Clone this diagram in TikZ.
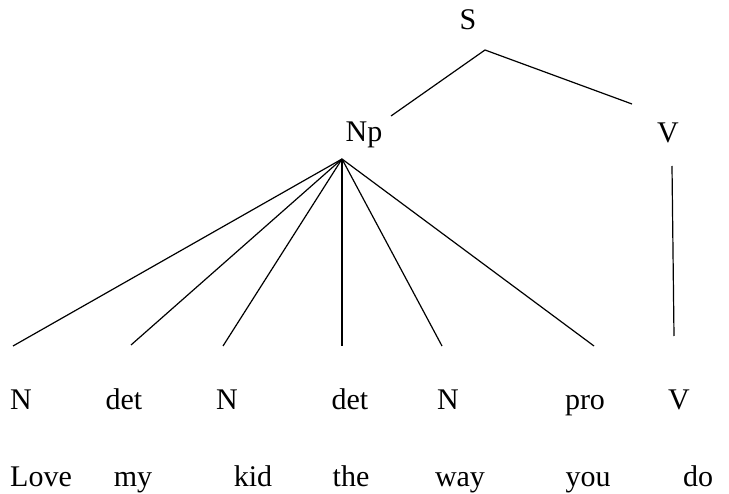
\documentclass[tikz,border=0pt]{standalone}
\usepackage{fontspec}
\setmainfont{Liberation Serif}
\begin{document}
\begin{tikzpicture}[x=1pt,y=-1pt,
  lab/.style={anchor=base,inner sep=0pt,font=\fontsize{30}{36}\selectfont},
  edge/.style={draw=black,line width=1.2pt}]
\useasboundingbox (0,0) rectangle (729,494);
% category labels
\node[lab] (S) at (468,30) {S};
\node[lab] (Np) at (364,142) {Np};
\node[lab] (Vt) at (668,143) {V};
\node[lab] (l1) at (21,410) {N};
\node[lab] (l2) at (124,410) {det};
\node[lab] (l3) at (227,410) {N};
\node[lab] (l4) at (350,410) {det};
\node[lab] (l5) at (448,410) {N};
\node[lab] (l6) at (585,410) {pro};
\node[lab] (l7) at (679,410) {V};
% words
\node[lab] (w1) at (41,486) {Love};
\node[lab] (w2) at (133,486) {my};
\node[lab] (w3) at (253,486) {kid};
\node[lab] (w4) at (351,486) {the};
\node[lab] (w5) at (460,486) {way};
\node[lab] (w6) at (588,486) {you};
\node[lab] (w7) at (698,486) {do};
% connector points
\coordinate (sA) at (485,50);
\coordinate (npT) at (391,116);
\coordinate (vT) at (632,104);
\coordinate (npB) at (342,159);
\coordinate (e1) at (13,346);
\coordinate (e2) at (131,345);
\coordinate (e3) at (223,346);
\coordinate (e4) at (342,346);
\coordinate (e5) at (442,346);
\coordinate (e6) at (594,346);
\coordinate (vB) at (672,166);
\coordinate (e7) at (674,336);
\draw[edge] (npT) -- (sA) -- (vT);
\foreach \e in {e1,e2,e3,e4,e5,e6} \draw[edge] (npB) -- (\e);
\draw[edge] (vB) -- (e7);
\end{tikzpicture}
\end{document}
